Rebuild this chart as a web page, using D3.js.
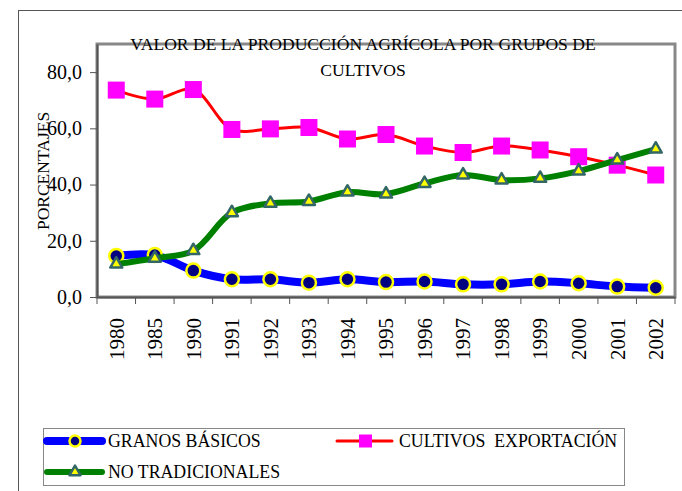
<!DOCTYPE html>
<html>
<head>
<meta charset="utf-8">
<script src="https://cdn.jsdelivr.net/npm/d3@7"></script>
<style>
  body { margin: 0; background: #fff; }
  svg text { font-family: "Times New Roman", "Liberation Serif", "DejaVu Serif", Times, serif !important; fill: #000; }
</style>
</head>
<body>
<div id="chart"></div>
<script>
const years = ["1980", "1985", "1990", "1991", "1992", "1993", "1994", "1995",
               "1996", "1997", "1998", "1999", "2000", "2001", "2002"];
const granos = [14.6, 14.9, 9.4, 6.3, 6.3, 5.1, 6.3, 5.3, 5.5, 4.5, 4.5, 5.5, 4.9, 3.7, 3.3];
const exportacion = [73.6, 70.4, 73.8, 59.6, 59.8, 60.3, 56.2, 57.8, 53.7, 51.4, 53.7, 52.3, 49.9, 46.9, 43.4];
const noTradicionales = [11.7, 13.8, 16.5, 30.0, 33.3, 34.0, 37.3, 36.6, 40.4, 43.4, 41.6, 42.2, 44.8, 48.7, 52.6];
const yTicks = [0, 20, 40, 60, 80];

let width = 682,
    height = 491,
    plotLeft = 97, plotRight = 675, plotTop = 44, plotBottom = 297;

let svg = d3.select("#chart")
    .append("svg")
    .attr("width", width)
    .attr("height", height);

// outer frame
svg.append("rect")
    .attr("x", 18.5).attr("y", 10.5)
    .attr("width", 700).attr("height", 500)
    .attr("fill", "none")
    .attr("stroke", "#555")
    .attr("stroke-width", 1);

let x = d3.scaleBand().domain(years).range([plotLeft, plotRight]);
let y = d3.scaleLinear().domain([0, 90]).range([plotBottom, plotTop]);

// plot frame
svg.append("rect")
    .attr("x", plotLeft).attr("y", plotTop)
    .attr("width", plotRight - plotLeft).attr("height", plotBottom - plotTop)
    .attr("fill", "none")
    .attr("stroke", "#888")
    .attr("stroke-width", 3);

// y axis
let yAxis = d3.axisLeft(y)
    .tickValues(yTicks)
    .tickFormat(d => d3.format(".1f")(d).replace(".", ","))
    .tickSize(7)
    .tickSizeOuter(0)
    .tickPadding(8);
let gy = svg.append("g")
    .attr("transform", `translate(${plotLeft},0)`)
    .call(yAxis);
gy.select(".domain").attr("stroke", "#555").attr("stroke-width", 2);
gy.selectAll(".tick line").attr("stroke", "#555");
gy.selectAll("text").style("font-size", "20px");

// x axis
let xAxis = d3.axisBottom(x).tickSize(0).tickSizeOuter(0);
let gx = svg.append("g")
    .attr("transform", `translate(0,${plotBottom})`)
    .call(xAxis);
gx.select(".domain").attr("stroke", "#555").attr("stroke-width", 2);
gx.selectAll("text")
    .style("font-size", "21px")
    .attr("transform", "rotate(-90)")
    .attr("text-anchor", "end")
    .attr("x", -21)
    .attr("y", 0)
    .attr("dy", "0.35em");

// boundary ticks
gx.selectAll(".bound")
    .data(years.concat(["end"]))
    .enter()
    .append("line")
    .attr("x1", d => d === "end" ? plotRight : x(d))
    .attr("x2", d => d === "end" ? plotRight : x(d))
    .attr("y1", 0).attr("y2", 7)
    .attr("stroke", "#555");

// title
svg.append("text")
    .attr("x", 363).attr("y", 50)
    .attr("text-anchor", "middle")
    .style("font-size", "17.6px")
    .text("VALOR DE LA PRODUCCIÓN AGRÍCOLA POR GRUPOS DE");
svg.append("text")
    .attr("x", 363).attr("y", 76)
    .attr("text-anchor", "middle")
    .style("font-size", "17.6px")
    .text("CULTIVOS");

// y label
svg.append("text")
    .attr("transform", "translate(49,171) rotate(-90)")
    .attr("text-anchor", "middle")
    .style("font-size", "17.5px")
    .text("PORCENTAJES");

let cx = d => x(d) + x.bandwidth() / 2;
let line = d3.line().curve(d3.curveCatmullRom.alpha(0.5));

function triPath(size) {
    let h = size * Math.sqrt(3) / 2;
    return `M0,${-h * 2 / 3}L${size / 2},${h / 3}L${-size / 2},${h / 3}Z`;
}

// granos basicos
svg.append("path")
    .attr("d", line(granos.map((v, i) => [cx(years[i]), y(v)])))
    .attr("fill", "none").attr("stroke", "#0000ff").attr("stroke-width", 8);
svg.selectAll(".granos")
    .data(granos)
    .enter()
    .append("circle")
    .attr("cx", (d, i) => cx(years[i]))
    .attr("cy", d => y(d))
    .attr("r", 7)
    .attr("fill", "#000080")
    .attr("stroke", "#ffff00")
    .attr("stroke-width", 2.5);

// cultivos exportacion
svg.append("path")
    .attr("d", line(exportacion.map((v, i) => [cx(years[i]), y(v)])))
    .attr("fill", "none").attr("stroke", "#ff0000").attr("stroke-width", 3);
svg.selectAll(".export")
    .data(exportacion)
    .enter()
    .append("rect")
    .attr("x", (d, i) => cx(years[i]) - 8.5)
    .attr("y", d => y(d) - 8.5)
    .attr("width", 17).attr("height", 17)
    .attr("fill", "#ff00ff");

// no tradicionales
svg.append("path")
    .attr("d", line(noTradicionales.map((v, i) => [cx(years[i]), y(v)])))
    .attr("fill", "none").attr("stroke", "#008000").attr("stroke-width", 6);
svg.selectAll(".notrad")
    .data(noTradicionales)
    .enter()
    .append("path")
    .attr("transform", (d, i) => `translate(${cx(years[i])},${y(d)})`)
    .attr("d", triPath(12))
    .attr("fill", "#ffff00")
    .attr("stroke", "#336666")
    .attr("stroke-width", 2.5)
    .attr("stroke-linejoin", "round");

// legend
svg.append("rect")
    .attr("x", 43.5).attr("y", 428.5)
    .attr("width", 581).attr("height", 57)
    .attr("fill", "none")
    .attr("stroke", "#888");

let legendItems = [
    { name: "GRANOS BÁSICOS", x: 47, y: 441, color: "#0000ff", w: 8, mark: "circle" },
    { name: "CULTIVOS  EXPORTACIÓN", x: 337, y: 441, color: "#ff0000", w: 3, mark: "square" },
    { name: "NO TRADICIONALES", x: 47, y: 472, color: "#008000", w: 6, mark: "tri" }
];
let lg = svg.selectAll(".legend")
    .data(legendItems)
    .enter()
    .append("g")
    .attr("transform", d => `translate(${d.x},${d.y})`);
lg.append("line")
    .attr("x1", 0).attr("x2", 55)
    .attr("stroke", d => d.color)
    .attr("stroke-width", d => d.w)
    .attr("stroke-linecap", "round");
lg.each(function (d) {
    let g = d3.select(this);
    if (d.mark === "circle") {
        g.append("circle").attr("cx", 28).attr("r", 5.5)
            .attr("fill", "#000080").attr("stroke", "#ffff00").attr("stroke-width", 2.5);
    } else if (d.mark === "square") {
        g.append("rect").attr("x", 22).attr("y", -6.5).attr("width", 13).attr("height", 13)
            .attr("fill", "#ff00ff");
    } else {
        g.append("path").attr("transform", "translate(28,0)").attr("d", triPath(11))
            .attr("fill", "#ffff00").attr("stroke", "#336666").attr("stroke-width", 2.5)
            .attr("stroke-linejoin", "round");
    }
});
lg.append("text")
    .attr("x", d => d.mark === "square" ? 62 : 61)
    .attr("y", 0)
    .attr("dy", "0.35em")
    .style("font-size", "17.8px")
    .style("white-space", "pre")
    .text(d => d.name);
</script>
</body>
</html>
